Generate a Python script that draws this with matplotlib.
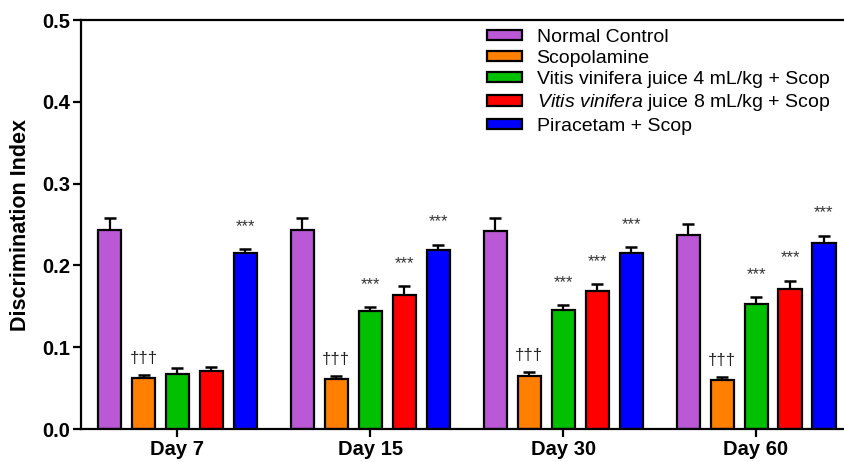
import matplotlib.pyplot as plt
import numpy as np

plt.rcParams['font.family'] = ['Liberation Sans', 'DejaVu Sans']
plt.rcParams['mathtext.fontset'] = 'custom'
plt.rcParams['mathtext.rm'] = 'Liberation Sans'
plt.rcParams['mathtext.it'] = 'Liberation Sans:italic'

## Data
days = ['Day 7', 'Day 15', 'Day 30', 'Day 60']
groups = ['Normal Control',
          'Scopolamine',
          'Vitis vinifera juice 4 mL/kg + Scop',
          r'$\it{Vitis\ vinifera}$ juice 8 mL/kg + Scop',
          'Piracetam + Scop']
colors = ['#BA58D6', '#FF8000', '#00C000', '#FF0000', '#0000FF']

means = [[0.243, 0.243, 0.242, 0.2375],   # Normal Control
         [0.062, 0.061, 0.065, 0.060],    # Scopolamine
         [0.067, 0.144, 0.1455, 0.153],   # VV 4
         [0.0705, 0.164, 0.169, 0.171],   # VV 8
         [0.2155, 0.219, 0.2155, 0.228]]  # Piracetam
sems = [[0.015, 0.015, 0.016, 0.0135],
        [0.004, 0.004, 0.005, 0.0035],
        [0.007, 0.005, 0.006, 0.008],
        [0.0055, 0.0105, 0.008, 0.010],
        [0.0045, 0.006, 0.0065, 0.008]]
# significance marks per group per day
marks = [['', '', '', ''],
         ['†††', '†††', '†††', '†††'],
         ['', '***', '***', '***'],
         ['', '***', '***', '***'],
         ['***', '***', '***', '***']]

fig = plt.figure(figsize=(8.44, 4.62), dpi=100)
ax = fig.add_axes([0.096, 0.0714, 0.904, 0.8853])

gap = 5.68
centers = np.arange(len(days)) * gap
width = 0.68

for g in range(len(groups)):
    x = centers + (g - 2)
    ax.bar(x, means[g], width, color=colors[g], edgecolor='black',
           linewidth=1.6, label=groups[g], zorder=2)
    ax.errorbar(x, means[g], yerr=[np.zeros(len(days)), sems[g]],
                fmt='none', ecolor='black', elinewidth=1.6, capsize=4.3,
                capthick=1.8, zorder=1)
    for d in range(len(days)):
        m = marks[g][d]
        if not m:
            continue
        top = means[g][d] + sems[g][d]
        if m == '***':
            ax.text(x[d], top + 0.028, m, ha='center', va='center',
                    fontsize=12, color='#333333')
        else:
            ax.text(x[d], top + 0.02, m, ha='center', va='center',
                    fontsize=12, color='#222222')

ax.set_ylim(0, 0.5)
ax.set_xlim(centers[0] - 2.84, centers[-1] + 2.59)
ax.set_yticks(np.arange(0, 0.51, 0.1))
ax.set_yticklabels(['0.0', '0.1', '0.2', '0.3', '0.4', '0.5'],
                   fontsize=14.5, fontweight='bold')
ax.set_xticks(centers)
ax.set_xticklabels(days, fontsize=14.5, fontweight='bold')
ax.set_ylabel('Discrimination Index', fontsize=15.5, fontweight='bold',
              labelpad=8)

for s in ['left', 'bottom', 'top']:
    ax.spines[s].set_linewidth(1.6)
ax.spines['right'].set_visible(False)
ax.tick_params(axis='both', direction='out', length=6, width=1.6, pad=2)

leg = ax.legend(loc='upper left', bbox_to_anchor=(0.532, 0.979), frameon=False,
                fontsize=14, handlelength=1.8, handleheight=0.42,
                labelspacing=0.22, handletextpad=0.75, borderaxespad=0,
                borderpad=0)

fig.savefig('out.png', dpi=100)
